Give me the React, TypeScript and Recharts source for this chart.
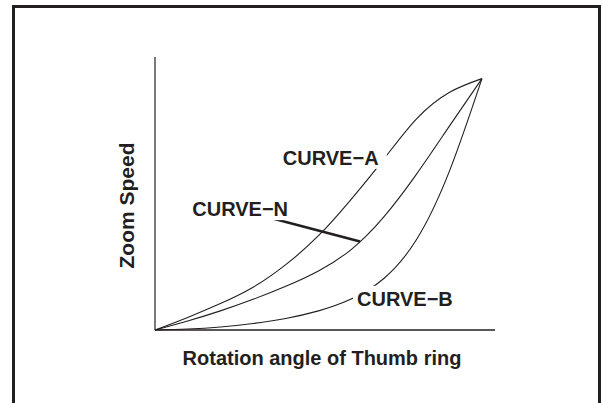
import React from "react";
import {
  LineChart,
  Line,
  XAxis,
  YAxis,
  ReferenceLine,
  ReferenceDot,
} from "recharts";

// rotation angle (0 = start, 100 = end of travel)
const ANGLE = [0, 10, 20, 30, 40, 50, 60, 70, 80, 90, 100];
// zoom speed (0..100)
const CURVE_A = [0, 5, 10.5, 17, 26, 37.5, 52, 68, 84, 94.5, 100];
const CURVE_N = [0, 3.6, 7.6, 12.2, 17.4, 23.5, 32, 45, 62, 81, 100];
const CURVE_B = [0, 0.4, 1.2, 2.6, 4.6, 7.6, 12.3, 20.5, 36, 63, 100];

// leader line from the CURVE-N label to the curve
const POINTER_X = [35.7, 62.7];
const POINTER_Y = [44.5, 35.2];

const CURVE_LABELS = ["CURVE\u2212A", "CURVE\u2212N", "CURVE\u2212B"];
const LABEL_X = [39.1, 11.4, 61.8];
const LABEL_Y = [65.7, 45.3, 9.6];

const INK = "#231f20";
const FONT = "'Liberation Sans', Arial, Helvetica, sans-serif";

const data = ANGLE.map((x, i) => ({
  x,
  a: CURVE_A[i],
  n: CURVE_N[i],
  b: CURVE_B[i],
}));

const CurveLabel = ({ cx, cy, text }: any) => {
  if (cx == null || cy == null) return null;
  return (
    <g>
      <rect x={cx - 4} y={cy - 20} width={108} height={24} fill="#fff" />
      <text
        x={cx}
        y={cy}
        fill={INK}
        fontFamily={FONT}
        fontSize={20}
        fontWeight={700}
      >
        {text}
      </text>
    </g>
  );
};

const XTitle = ({ viewBox }: any) => {
  const { x, y, width } = viewBox;
  return (
    <text
      x={x + width / 2 - 3}
      y={y + 35}
      textAnchor="middle"
      fill={INK}
      fontFamily={FONT}
      fontSize={20}
      fontWeight={700}
    >
      Rotation angle of Thumb ring
    </text>
  );
};

const YTitle = ({ viewBox }: any) => {
  const { x, y, width, height } = viewBox;
  const tx = x + width - 21;
  const ty = y + height / 2 + 12;
  return (
    <text
      x={tx}
      y={ty}
      transform={`rotate(-90, ${tx}, ${ty})`}
      textAnchor="middle"
      fill={INK}
      fontFamily={FONT}
      fontSize={21}
      fontWeight={700}
    >
      Zoom Speed
    </text>
  );
};

export default function App() {
  return (
    <div
      style={{
        position: "fixed",
        left: 0,
        top: 0,
        width: 602,
        height: 403,
        overflow: "hidden",
        background: "#fff",
      }}
    >
      <div
        style={{
          position: "absolute",
          left: 12,
          top: 5,
          width: 589,
          height: 420,
          boxSizing: "border-box",
          borderTop: `3px solid ${INK}`,
          borderLeft: `3px solid ${INK}`,
          borderRight: `3px solid ${INK}`,
        }}
      />
      <div style={{ position: "absolute", left: 0, top: 0 }}>
        <LineChart
          width={602}
          height={403}
          data={data}
          margin={{ top: 57, right: 107, bottom: 43, left: 0 }}
        >
          <XAxis
            dataKey="x"
            type="number"
            domain={[0, 104]}
            tick={false}
            tickLine={false}
            height={30}
            axisLine={{ stroke: INK, strokeWidth: 1.6 }}
            label={<XTitle />}
          />
          <YAxis
            type="number"
            domain={[0, 108.6]}
            tick={false}
            tickLine={false}
            width={155}
            axisLine={{ stroke: INK, strokeWidth: 1.2 }}
            label={<YTitle />}
          />
          <Line
            dataKey="a"
            type="natural"
            stroke={INK}
            strokeWidth={1.1}
            dot={false}
            isAnimationActive={false}
          />
          <Line
            dataKey="n"
            type="natural"
            stroke={INK}
            strokeWidth={1.1}
            dot={false}
            isAnimationActive={false}
          />
          <Line
            dataKey="b"
            type="natural"
            stroke={INK}
            strokeWidth={1.1}
            dot={false}
            isAnimationActive={false}
          />
          {CURVE_LABELS.map((t, i) => (
            <ReferenceDot
              key={t}
              x={LABEL_X[i]}
              y={LABEL_Y[i]}
              ifOverflow="visible"
              shape={(p: any) => <CurveLabel {...p} text={t} />}
            />
          ))}
          <ReferenceLine
            segment={[
              { x: POINTER_X[0], y: POINTER_Y[0] },
              { x: POINTER_X[1], y: POINTER_Y[1] },
            ]}
            stroke={INK}
            strokeWidth={2.6}
            ifOverflow="visible"
          />
        </LineChart>
      </div>
    </div>
  );
}
